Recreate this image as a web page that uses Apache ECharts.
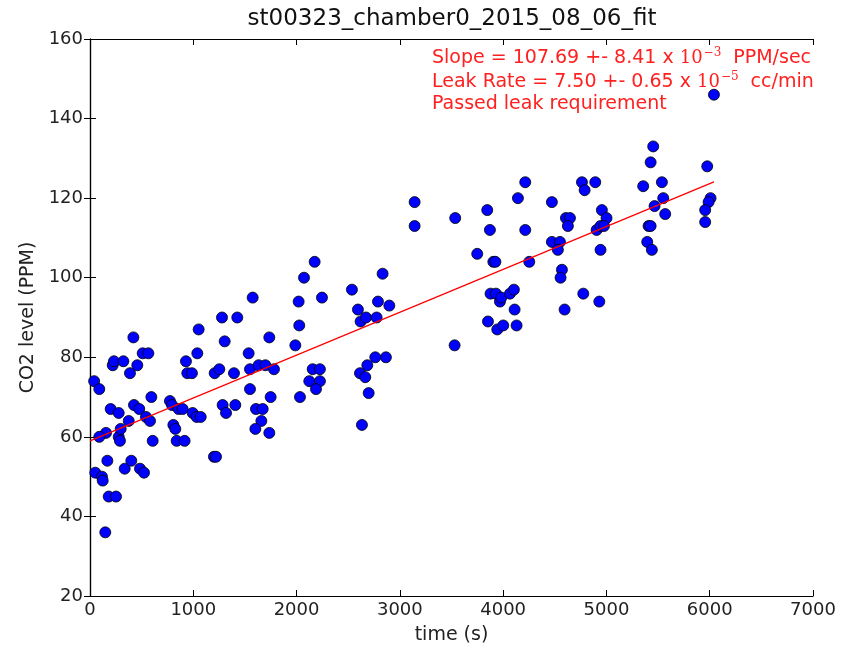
<!DOCTYPE html>
<html>
<head>
<meta charset="utf-8">
<script src="https://cdn.jsdelivr.net/npm/echarts@6/dist/echarts.min.js"></script>
<style>html,body{margin:0;padding:0;background:#fff}#c{width:843px;height:650px}</style>
</head>
<body>
<div id="c"></div>
<script>
var chartTitle = 'st00323_chamber0_2015_08_06_fit';
var xName = 'time (s)';
var yName = 'CO2 level (PPM)';
var times = [40,90,420,220,232,323,387,458,510,565,594,200,278,375,426,477,542,581,155,90,278,290,297,607,168,51,116,123,336,400,484,523,181,252,148,
774,794,858,897,807,826,839,916,994,1033,1072,929,942,987,1039,1052,1200,1220,1207,1252,1278,1304,1284,1317,1426,1394,1407,1575,1536,1549,1633,1698,1781,1549,1607,1672,1659,1601,1736,1736,1749,1988,2020,2026,2033,
2175,2072,2246,2156,2226,2123,2226,2188,2536,2594,2620,2672,2775,2788,2898,2833,2685,2762,2865,2614,2665,2698,2633,
3143,3143,3536,3530,3846,3872,3749,3905,3925,4214,4143,4214,4253,3878,3930,3969,3982,4066,4104,4111,3853,3943,4001,4130,4472,4763,4789,4892,4608,4647,4627,4472,4550,4530,4569,4556,4595,4776,4931,4956,5001,4905,4943,4976,4943,
6041,5453,5428,5976,5356,5537,5550,5466,5569,5408,5428,5395,5440,6008,5989,5956,5956];
var co2 = [74,72,85,78,79,79,76,78,81,81,70,67,66,64,68,67,65,64,61,60,60,59,62,59,54,51,50,49,52,54,52,51,45,45,36,
69,68,67,67,63,62,59,59,66,65,65,79,76,76,81,87,55,55,76,77,90,84,68,66,90,76,68,95,81,77,78,78,77,72,67,67,64,62,61,85,70,83,94,88,70,
104,100,95,77,77,74,74,72,97,92,89,90,90,94,93,101,78,80,80,76,75,71,63,
119,113,115,83,117,112,106,104,104,124,120,112,104,96,96,94,95,96,97,92,89,87,88,88,119,124,122,124,115,115,113,109,109,107,102,100,92,96,94,117,115,112,113,113,107,
146,133,129,128,123,124,120,118,116,113,113,109,107,120,119,117,114];
var fitLine = [[0, 59.0], [6041, 124.1]];
var annot = [
  ['Slope = 107.69 +- 8.41 x ', '10', '\u22123', ' PPM/sec'],
  ['Leak Rate = 7.50 +- 0.65 x ', '10', '\u22125', ' cc/min'],
  ['Passed leak requirement']
];

var pts = times.map(function(t,i){return [t, co2[i]];});
var font = 'DejaVu Sans';
var red = '#ff2020';
function richLine(a){
  if (a.length === 1) return a[0];
  return a[0] + '{b|' + a[1] + '}{s|' + a[2] + '}' + a[3];
}
var annotTitles = annot.map(function(a, i){
  return {
    text: richLine(a), left: 432, top: [47, 71, 93][i], padding: 0,
    textStyle: {
      fontFamily: font, fontSize: 19, fontWeight: 'normal', color: red, lineHeight: 22,
      rich: {
        b: {fontFamily: 'DejaVu Serif', fontSize: 18, color: red, lineHeight: 22},
        s: {fontFamily: 'DejaVu Serif', fontSize: 12, color: red, lineHeight: 22, verticalAlign: 'top', padding: [0,6,10,1]}
      }
    }
  };
});
var axisCommon = {
  axisLine: {show: true, lineStyle: {color: '#000', width: 1.2}},
  axisTick: {show: true, inside: true, length: 6, lineStyle: {color: '#000', width: 1}},
  splitLine: {show: false}
};
var chart = echarts.init(document.getElementById('c'), null, {renderer: 'canvas'});
chart.setOption({
  backgroundColor: '#fff',
  animation: false,
  title: [{
    text: chartTitle, left: 452, top: 8, textAlign: 'center', padding: 0,
    textStyle: {fontFamily: font, fontSize: 23, fontWeight: 'normal', color: '#111'}
  }].concat(annotTitles),
  grid: {left: 90, right: 30, top: 39, bottom: 51, containLabel: false},
  xAxis: [
    Object.assign({type: 'value', min: 0, max: 7000, interval: 1000, position: 'bottom',
      name: xName, nameLocation: 'middle', nameGap: 30,
      nameTextStyle: {fontFamily: font, fontSize: 19, color: '#222', verticalAlign: 'top'},
      axisLabel: {fontFamily: font, fontSize: 18, color: '#222', margin: 5,
        formatter: function(v){ return String(v); }}}, axisCommon),
    Object.assign({type: 'value', min: 0, max: 7000, interval: 1000, position: 'top',
      axisLabel: {show: false}}, axisCommon)
  ],
  yAxis: [
    Object.assign({type: 'value', min: 20, max: 160, interval: 20, position: 'left',
      name: yName, nameLocation: 'middle', nameGap: 47, nameRotate: 90,
      nameTextStyle: {fontFamily: font, fontSize: 19, color: '#222', verticalAlign: 'bottom'},
      axisLabel: {fontFamily: font, fontSize: 18, color: '#222', margin: 7}}, axisCommon),
    Object.assign({type: 'value', min: 20, max: 160, interval: 20, position: 'right',
      axisLabel: {show: false}}, axisCommon)
  ],
  series: [
    {
      type: 'scatter', data: pts, symbol: 'circle', symbolSize: 11,
      itemStyle: {color: '#0000ff', borderColor: '#000', borderWidth: 0.8, opacity: 1},
      z: 3
    },
    {
      type: 'line', data: fitLine, symbol: 'none',
      lineStyle: {color: '#ff0000', width: 1.3}, z: 4
    }
  ]
});
</script>
</body>
</html>
